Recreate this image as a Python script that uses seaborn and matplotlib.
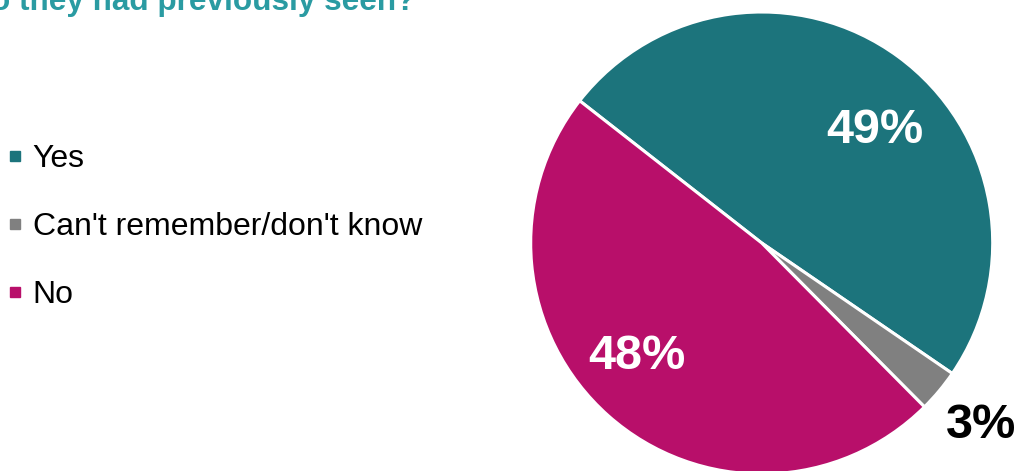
import numpy as np
import matplotlib
matplotlib.use("Agg")
import matplotlib.pyplot as plt
from matplotlib.lines import Line2D
import seaborn as sns

# Survey answers and shares (%)
categories = ["Yes", "Can't remember/don't know", "No"]
shares = [49, 3, 48]
title_text = "o they had previously seen?"

sns.set_theme(style="white")
plt.rcParams["font.family"] = ["Liberation Sans", "DejaVu Sans"]

colors = ["#1C747C", "#808080", "#B80F6A"]
title_color = "#2A9BA2"

W, H = 1019, 471
fig = plt.figure(figsize=(W / 100, H / 100), dpi=100)

# Pie axes placed in pixel terms: centre (762, 243), radius 231
cx, cy, r = 761.7, 243.0, 231.0
ax = fig.add_axes([(cx - r) / W, (H - cy - r) / H, 2 * r / W, 2 * r / H])
wedges, _ = ax.pie(
    shares,
    colors=colors,
    startangle=142,
    counterclock=False,
    radius=1.0,
    wedgeprops=dict(edgecolor="white", linewidth=2.2),
)
ax.set_xlim(-1, 1)
ax.set_ylim(-1, 1)
ax.set_aspect("equal")
ax.axis("off")

# Percentage labels: (radius fraction, angle tweak in degrees, colour)
label_style = [(0.69, -9, "white"), (1.235, 0, "black"), (0.73, -6, "white")]
for w, val, (rf, dang, col) in zip(wedges, shares, label_style):
    ang = np.deg2rad((w.theta1 + w.theta2) / 2 + dang)
    ax.text(rf * np.cos(ang), rf * np.sin(ang), f"{val}%",
            ha="center", va="center", fontsize=35, fontweight="bold",
            color=col, clip_on=False)

# Legend with small square markers
handles = [Line2D([0], [0], marker="s", linestyle="none", markersize=7.5,
                  markerfacecolor=c, markeredgecolor=c) for c in colors]
fig.legend(handles, categories, loc="upper left",
           bbox_to_anchor=(5 / W, 1 - 144 / H), frameon=False,
           fontsize=23, labelspacing=1.19, handlelength=0.6,
           handletextpad=0.27, borderpad=0.0, borderaxespad=0.0,
           labelcolor="black")

# Title (runs off the top-left edge)
fig.text(-9 / W, 1 - 10 / H, title_text, ha="left", va="baseline",
         fontsize=22.7, fontweight="bold", color=title_color)

fig.savefig("out.png", dpi=100)
